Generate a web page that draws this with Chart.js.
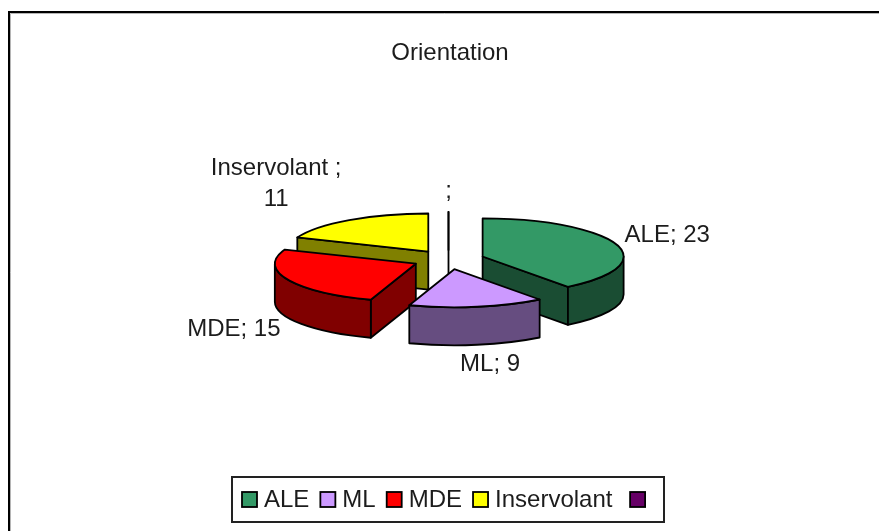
<!DOCTYPE html>
<html>
<head>
<meta charset="utf-8">
<style>
  html, body { margin: 0; padding: 0; background: #fff; }
  #wrap { width: 879px; height: 531px; }
</style>
<script src="https://cdn.jsdelivr.net/npm/chart.js@4"></script>
</head>
<body>
<div id="wrap"><canvas id="myChart"></canvas></div>
<script>
// Data block
const chartTitle = "Orientation";
const categories = ["ALE", "ML", "MDE", "Inservolant ", ""];
const values = [23, 9, 15, 11, 0];
const topColors = ["#339966", "#CC99FF", "#FF0000", "#FFFF00", "#660066"];
const wallColors = ["#1A4D33", "#664D80", "#800000", "#808000", "#330033"];

// look of the fake 3D
const squash = 0.27; // flattening of the pie
const depth = 38; // wall height
const explode = 36; // distance of each slice from the middle
const drawOrder = [4, 3, 2, 0, 1]; // back to front
const labelFont = "24px 'Liberation Sans', Arial, sans-serif";
const textColor = "#1c1c1c";

// label text lines and shift from the rim of the slice
const labelLines = [["ALE; 23"], ["ML; 9"], ["MDE; 15"], ["Inservolant ;", "11"], [";"]];
const labelShift = [[51, -9], [13, 58], [-54, 50], [-73, -36], [0, -20]];

function sliceGeometry(arc) {
  const { x, y, startAngle, endAngle, outerRadius } = arc.getProps(["x", "y", "startAngle", "endAngle", "outerRadius"]);
  const mid = (startAngle + endAngle) / 2;
  return {
    x0: x,
    y0: y,
    cx: x + Math.cos(mid) * explode,
    cy: y + Math.sin(mid) * explode * squash,
    a0: startAngle,
    a1: endAngle,
    rx: outerRadius,
    ry: outerRadius * squash,
    mid: mid,
  };
}

function rimPoint(g, angle) {
  return [g.cx + Math.cos(angle) * g.rx, g.cy + Math.sin(angle) * g.ry];
}

function sideFace(ctx, g, angle) {
  const p = rimPoint(g, angle);
  ctx.beginPath();
  ctx.moveTo(g.cx, g.cy);
  ctx.lineTo(p[0], p[1]);
  ctx.lineTo(p[0], p[1] + depth);
  ctx.lineTo(g.cx, g.cy + depth);
  ctx.closePath();
  ctx.fill();
  ctx.stroke();
}

// one slice: side faces, outer wall, then the top face
const pie3d = {
  id: "pie3d",
  beforeDatasetDraw(chart) {
    const { ctx } = chart;
    const arcs = chart.getDatasetMeta(0).data;
    ctx.save();
    ctx.lineWidth = 1.8;
    ctx.strokeStyle = "#000";
    ctx.lineJoin = "round";
    drawOrder.forEach((i) => {
      const arc = arcs[i];
      const g = sliceGeometry(arc);

      // only the side faces turned to the viewer
      ctx.fillStyle = wallColors[i];
      if (g.a1 === g.a0 || Math.cos(g.a0) < -0.001) sideFace(ctx, g, g.a0);
      if (Math.cos(g.a1) > 0.001) sideFace(ctx, g, g.a1);

      const lo = Math.max(g.a0, 0);
      const hi = Math.min(g.a1, Math.PI);
      if (hi > lo) {
        ctx.beginPath();
        ctx.ellipse(g.cx, g.cy, g.rx, g.ry, 0, lo, hi);
        ctx.ellipse(g.cx, g.cy + depth, g.rx, g.ry, 0, hi, lo, true);
        ctx.closePath();
        ctx.fill();
        ctx.stroke();
      }

      // top face is painted by the arc element itself
      ctx.save();
      ctx.translate(g.cx, g.cy);
      ctx.scale(1, squash);
      ctx.translate(-g.x0, -g.y0);
      arc.draw(ctx);
      ctx.restore();

      ctx.beginPath();
      ctx.moveTo(g.cx, g.cy);
      ctx.ellipse(g.cx, g.cy, g.rx, g.ry, 0, g.a0, g.a1);
      ctx.closePath();
      ctx.stroke();
    });
    ctx.restore();
    return false;
  },
  afterDraw(chart) {
    const { ctx, width, height } = chart;
    const arcs = chart.getDatasetMeta(0).data;
    ctx.save();

    // outer frame, only top and left are in the picture
    ctx.strokeStyle = "#b5b5b5";
    ctx.lineWidth = 1;
    ctx.beginPath();
    ctx.moveTo(width, 13.5);
    ctx.lineTo(10.5, 13.5);
    ctx.lineTo(10.5, height);
    ctx.stroke();
    ctx.strokeStyle = "#000";
    ctx.lineWidth = 2;
    ctx.beginPath();
    ctx.moveTo(width, 12);
    ctx.lineTo(9, 12);
    ctx.lineTo(9, height);
    ctx.stroke();

    // title
    ctx.font = labelFont;
    ctx.fillStyle = textColor;
    ctx.textAlign = "center";
    ctx.textBaseline = "middle";
    ctx.fillText(chartTitle, 450, 53);

    // data labels
    arcs.forEach((arc, i) => {
      const g = sliceGeometry(arc);
      const p = rimPoint(g, g.mid);
      const lines = labelLines[i];
      lines.forEach((line, n) => {
        const off = (n - (lines.length - 1) / 2) * 31;
        ctx.fillText(line, p[0] + labelShift[i][0], p[1] + labelShift[i][1] + off);
      });
    });

    // legend with its box
    const box = { left: 232, top: 477, right: 664, bottom: 522 };
    ctx.strokeStyle = "#222";
    ctx.lineWidth = 2;
    ctx.strokeRect(box.left, box.top, box.right - box.left, box.bottom - box.top);
    const midY = (box.top + box.bottom) / 2;
    let x = box.left + 10;
    ctx.textAlign = "left";
    categories.forEach((name, i) => {
      ctx.fillStyle = topColors[i];
      ctx.fillRect(x, midY - 7.5, 15, 15);
      ctx.strokeStyle = "#000";
      ctx.lineWidth = 1.8;
      ctx.strokeRect(x, midY - 7.5, 15, 15);
      ctx.fillStyle = textColor;
      ctx.fillText(name, x + 22, midY + 1);
      x += 22 + ctx.measureText(name).width + 11;
    });
    ctx.restore();
  },
};

// Config Block
const config = {
  type: "pie",
  data: {
    labels: categories,
    datasets: [
      {
        data: values,
        backgroundColor: topColors,
        borderWidth: 0,
      },
    ],
  },
  plugins: [pie3d],
  options: {
    responsive: true,
    maintainAspectRatio: false,
    animation: false,
    radius: 141,
    layout: {
      padding: { left: 18, bottom: 11.8 },
    },
    plugins: {
      legend: { display: false },
      tooltip: { enabled: false },
    },
  },
};

// Render Block
const myChart = new Chart(document.getElementById("myChart"), config);
</script>
</body>
</html>
